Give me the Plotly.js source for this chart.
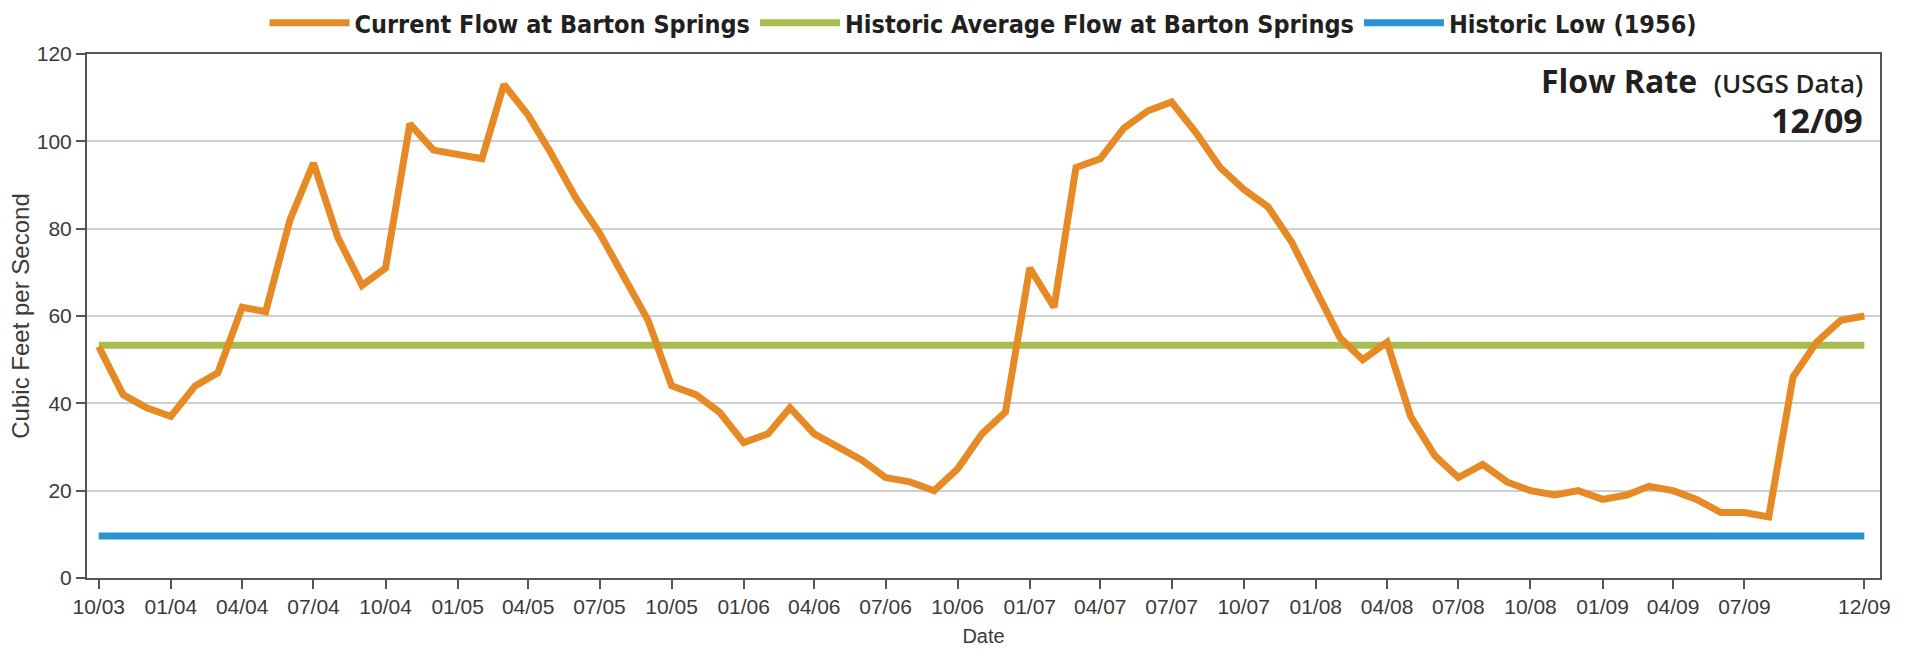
<!DOCTYPE html>
<html>
<head>
<meta charset="utf-8">
<script src="https://cdn.plot.ly/plotly-3.0.1.min.js"></script>
<style>
  html, body { margin: 0; padding: 0; background: #ffffff; }
  #chart { width: 1915px; height: 653px; }
</style>
</head>
<body>
<div id="chart"></div>
<script>
// ---- Data (monthly, Oct 2003 – Dec 2009) ----
const months = [
  '2003-10-01','2003-11-01','2003-12-01',
  '2004-01-01','2004-02-01','2004-03-01','2004-04-01','2004-05-01','2004-06-01',
  '2004-07-01','2004-08-01','2004-09-01','2004-10-01','2004-11-01','2004-12-01',
  '2005-01-01','2005-02-01','2005-03-01','2005-04-01','2005-05-01','2005-06-01',
  '2005-07-01','2005-08-01','2005-09-01','2005-10-01','2005-11-01','2005-12-01',
  '2006-01-01','2006-02-01','2006-03-01','2006-04-01','2006-05-01','2006-06-01',
  '2006-07-01','2006-08-01','2006-09-01','2006-10-01','2006-11-01','2006-12-01',
  '2007-01-01','2007-02-01','2007-03-01','2007-04-01','2007-05-01','2007-06-01',
  '2007-07-01','2007-08-01','2007-09-01','2007-10-01','2007-11-01','2007-12-01',
  '2008-01-01','2008-02-01','2008-03-01','2008-04-01','2008-05-01','2008-06-01',
  '2008-07-01','2008-08-01','2008-09-01','2008-10-01','2008-11-01','2008-12-01',
  '2009-01-01','2009-02-01','2009-03-01','2009-04-01','2009-05-01','2009-06-01',
  '2009-07-01','2009-08-01','2009-09-01','2009-10-01','2009-11-01','2009-12-01'
];
const currentFlow = [
  53, 42, 39,
  37, 44, 47, 62, 61, 82, 95, 78, 67, 71, 104, 98,
  97, 96, 113, 106, 97, 87, 79, 69, 59, 44, 42, 38,
  31, 33, 39, 33, 30, 27, 23, 22, 20, 25, 33, 38,
  71, 62, 94, 96, 103, 107, 109, 102, 94, 89, 85, 77,
  66, 55, 50, 54, 37, 28, 23, 26, 22, 20, 19, 20,
  18, 19, 21, 20, 18, 15, 15, 14, 46, 54, 59, 60
];
const historicAverage = 53.3;
const historicLow = 9.6;
const seriesNames = ['Current Flow at Barton Springs', 'Historic Average Flow at Barton Springs', 'Historic Low (1956)'];

const tickDates = [
  '2003-10-01','2004-01-01','2004-04-01','2004-07-01','2004-10-01',
  '2005-01-01','2005-04-01','2005-07-01','2005-10-01',
  '2006-01-01','2006-04-01','2006-07-01','2006-10-01',
  '2007-01-01','2007-04-01','2007-07-01','2007-10-01',
  '2008-01-01','2008-04-01','2008-07-01','2008-10-01',
  '2009-01-01','2009-04-01','2009-07-01','2009-12-01'
];
const tickLabels = [
  '10/03','01/04','04/04','07/04','10/04',
  '01/05','04/05','07/05','10/05',
  '01/06','04/06','07/06','10/06',
  '01/07','04/07','07/07','10/07',
  '01/08','04/08','07/08','10/08',
  '01/09','04/09','07/09','12/09'
];
const yTicks = [0, 20, 40, 60, 80, 100, 120];

// ---- Traces ----
const avgY = months.map(() => historicAverage);
const lowY = months.map(() => historicLow);

const current = { x: months, y: currentFlow, name: seriesNames[0], type: 'scatter', mode: 'lines',
  legendrank: 1, line: { color: '#E68A26', width: 7 } };
const average = { x: months, y: avgY, name: seriesNames[1], type: 'scatter', mode: 'lines',
  legendrank: 2, line: { color: '#A6BE50', width: 7 } };
const low = { x: months, y: lowY, name: seriesNames[2], type: 'scatter', mode: 'lines',
  legendrank: 3, line: { color: '#2A93D4', width: 7 } };

const tickFont = { family: '"Liberation Sans Narrow", "Arial Narrow", "Liberation Sans", Arial, sans-serif', size: 21, color: '#3a3a3a' };

const layout = {
  width: 1915, height: 653,
  paper_bgcolor: '#ffffff', plot_bgcolor: '#ffffff',
  margin: { l: 87, r: 35, t: 54, b: 75, autoexpand: false },
  showlegend: true,
  legend: {
    orientation: 'h', x: 0.5, xanchor: 'center', y: 1.059, yanchor: 'middle',
    font: { family: '"DejaVu Sans Condensed", "DejaVu Sans", sans-serif', size: 25, color: '#231f20', weight: 'bold' },
    traceorder: 'normal', itemwidth: 80
  },
  xaxis: {
    type: 'date',
    range: ['2003-09-16', '2009-12-21'],
    tickmode: 'array', tickvals: tickDates, ticktext: tickLabels,
    ticks: 'outside', ticklen: 9, tickwidth: 2, tickcolor: '#555',
    tickfont: tickFont,
    showgrid: false, zeroline: false,
    showline: true, linecolor: '#555', linewidth: 2, mirror: true,
    title: { text: 'Date', font: { family: tickFont.family, size: 20, color: '#3a3a3a' }, standoff: 12 }
  },
  yaxis: {
    range: [0, 120],
    tickmode: 'array', tickvals: yTicks,
    ticks: 'outside', ticklen: 9, tickwidth: 2, tickcolor: '#555',
    tickfont: tickFont,
    showgrid: true, gridcolor: '#cfcfcf', gridwidth: 2,
    zeroline: false,
    showline: true, linecolor: '#555', linewidth: 2, mirror: true,
    title: { text: 'Cubic Feet per Second', font: { family: '"Liberation Sans", Arial, sans-serif', size: 24, color: '#3a3a3a' }, standoff: 0 }
  },
  annotations: [
    { xref: 'paper', yref: 'paper', x: 1, y: 0.9496, xanchor: 'right', yanchor: 'middle', xshift: -15,
      showarrow: false, align: 'right',
      text: '<b>Flow Rate</b>  <span style="font-size:26px;font-weight:600">(USGS Data)</span>',
      font: { family: '"Open Sans", "Noto Sans", sans-serif', size: 32, color: '#231f20' } },
    { xref: 'paper', yref: 'paper', x: 1, y: 0.8746, xanchor: 'right', yanchor: 'middle', xshift: -15,
      showarrow: false, align: 'right',
      text: '<b>12/09</b>',
      font: { family: '"Open Sans", "Noto Sans", sans-serif', size: 34, color: '#231f20' } }
  ],
  hovermode: false
};

Plotly.newPlot('chart', [average, low, current], layout, { displayModeBar: false, staticPlot: true });
</script>
</body>
</html>
